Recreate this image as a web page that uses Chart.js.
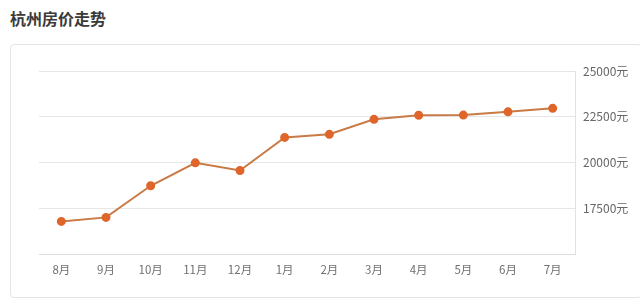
<!DOCTYPE html>
<html>
<head>
<meta charset="utf-8">
<script src="https://cdn.jsdelivr.net/npm/chart.js@4"></script>
<style>
  html, body { margin: 0; padding: 0; background: #fff; }
  body { width: 640px; height: 299px; position: relative; overflow: hidden; font-family: "Noto Sans CJK SC", sans-serif; }
  #title { position: absolute; left: 10px; top: 6px; font-size: 16px; font-weight: bold; color: #3a3a3a; }
  #card { position: absolute; left: 10px; top: 44px; width: 630px; height: 252px; border: 1px solid #e4e4e4; border-radius: 4px; }
  #wrap { position: absolute; left: 0; top: 0; width: 640px; height: 299px; }
</style>
</head>
<body>
<div id="title">杭州房价走势</div>
<div id="card"></div>
<div id="wrap"><canvas id="myChart"></canvas></div>
<script>
let months = ['8月', '9月', '10月', '11月', '12月', '1月', '2月', '3月', '4月', '5月', '6月', '7月']
let prices = [16780, 17000, 18730, 19980, 19560, 21370, 21540, 22360, 22580, 22590, 22770, 22960]
let yTicks = [17500, 20000, 22500, 25000]

const ctx = document.getElementById('myChart');
new Chart(ctx, {
  type: 'line',
  data: {
    labels: months,
    datasets: [{
      data: prices,
      borderColor: '#c97a45',
      borderWidth: 2,
      pointBackgroundColor: '#e0652a',
      pointBorderColor: '#e0652a',
      pointRadius: 3.5,
      tension: 0
    }]
  },
  options: {
    responsive: true,
    maintainAspectRatio: false,
    animation: false,
    layout: { padding: { left: 39, top: 71, right: 0, bottom: 0 } },
    plugins: { legend: { display: false }, tooltip: { enabled: false } },
    scales: {
      x: {
        offset: true,
        grid: { display: false },
        border: { display: true, color: '#dddddd' },
        ticks: { color: '#707070', padding: 1, font: { family: 'Noto Sans CJK SC', size: 11.5 } },
        afterFit: (s) => { s.height = 45 }
      },
      y: {
        position: 'right',
        min: 15000,
        max: 25000,
        afterBuildTicks: (s) => { s.ticks = [15000].concat(yTicks).map(v => ({ value: v })) },
        grid: { color: '#e6e6e6', drawTicks: false },
        border: { display: true, color: '#e2e2e2' },
        ticks: {
          color: '#666',
          padding: 8,
          font: { family: 'Noto Sans CJK SC', size: 12 },
          callback: (v) => yTicks.includes(v) ? v + '元' : ''
        },
        afterFit: (s) => { s.width = 65 }
      }
    }
  }
});
</script>
</body>
</html>
